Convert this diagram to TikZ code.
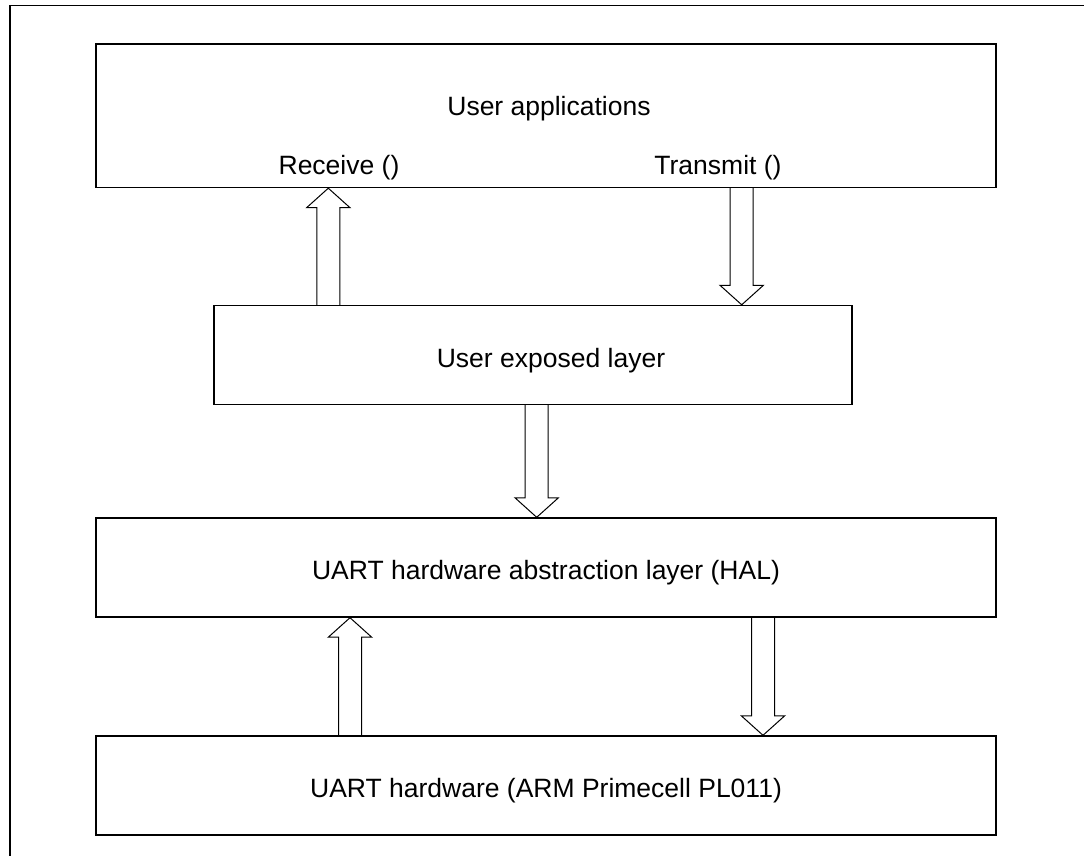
\documentclass[tikz,border=0pt]{standalone}
\usepackage{fontspec}
\setmainfont{Liberation Sans}
\usetikzlibrary{calc}
\tikzset{
  layer/.style={draw,line width=1.4pt,minimum width=900pt,minimum height=99pt,inner sep=0pt},
  txt/.style={font=\fontsize{26.5}{32}\selectfont,anchor=base,inner sep=0pt},
  blockline/.style={draw,line width=1pt,line join=miter},
}
\newcommand\blockarrow[2]{%
  \draw[blockline] let \p1=(#1), \p2=(#2), \p3=($(#2)!19.5pt!(#1)$) in
    (\x1-11.5pt,\y1) -- (\x1-11.5pt,\y3) -- (\x1-21.7pt,\y3) -- (\x2,\y2)
    -- (\x1+21.7pt,\y3) -- (\x1+11.5pt,\y3) -- (\x1+11.5pt,\y1);}
\begin{document}
\begin{tikzpicture}[x=1pt,y=-1pt]
  \useasboundingbox (0,0) rectangle (1084,856);
  \draw[line width=1.7pt] (10,860) -- (10,5.5) -- (1090,5.5);
  % layers
  \node[layer,minimum height=143.5pt] (app) at (546,115.75) {};
  \node[layer,minimum width=638pt] (expo) at (533,355) {};
  \node[layer] (hal) at (546,567.5) {};
  \node[layer] (hw) at (546,785.5) {};
  \node[txt] (applbl) at (549,116) {User applications};
  \node[txt] (rxlbl) at (339,174) {Receive ()};
  \node[txt] (txlbl) at (718,174) {Transmit ()};
  \node[txt] (expolbl) at (551,367) {User exposed layer};
  \node[txt] (hallbl) at (546,579.5) {UART hardware abstraction layer (HAL)};
  \node[txt] (hwlbl) at (546,797.5) {UART hardware (ARM Primecell PL011)};
  % arrow columns
  \coordinate (rxcol) at (328.3,0);
  \coordinate (txcol) at (741.7,0);
  \coordinate (downcol) at (536.7,0);
  \coordinate (hwupcol) at (350,0);
  \coordinate (hwdowncol) at (763,0);
  \blockarrow{rxcol |- expo.north}{rxcol |- app.south}
  \blockarrow{txcol |- app.south}{txcol |- expo.north}
  \blockarrow{downcol |- expo.south}{downcol |- hal.north}
  \blockarrow{hwupcol |- hw.north}{hwupcol |- hal.south}
  \blockarrow{hwdowncol |- hal.south}{hwdowncol |- hw.north}
\end{tikzpicture}
\end{document}
